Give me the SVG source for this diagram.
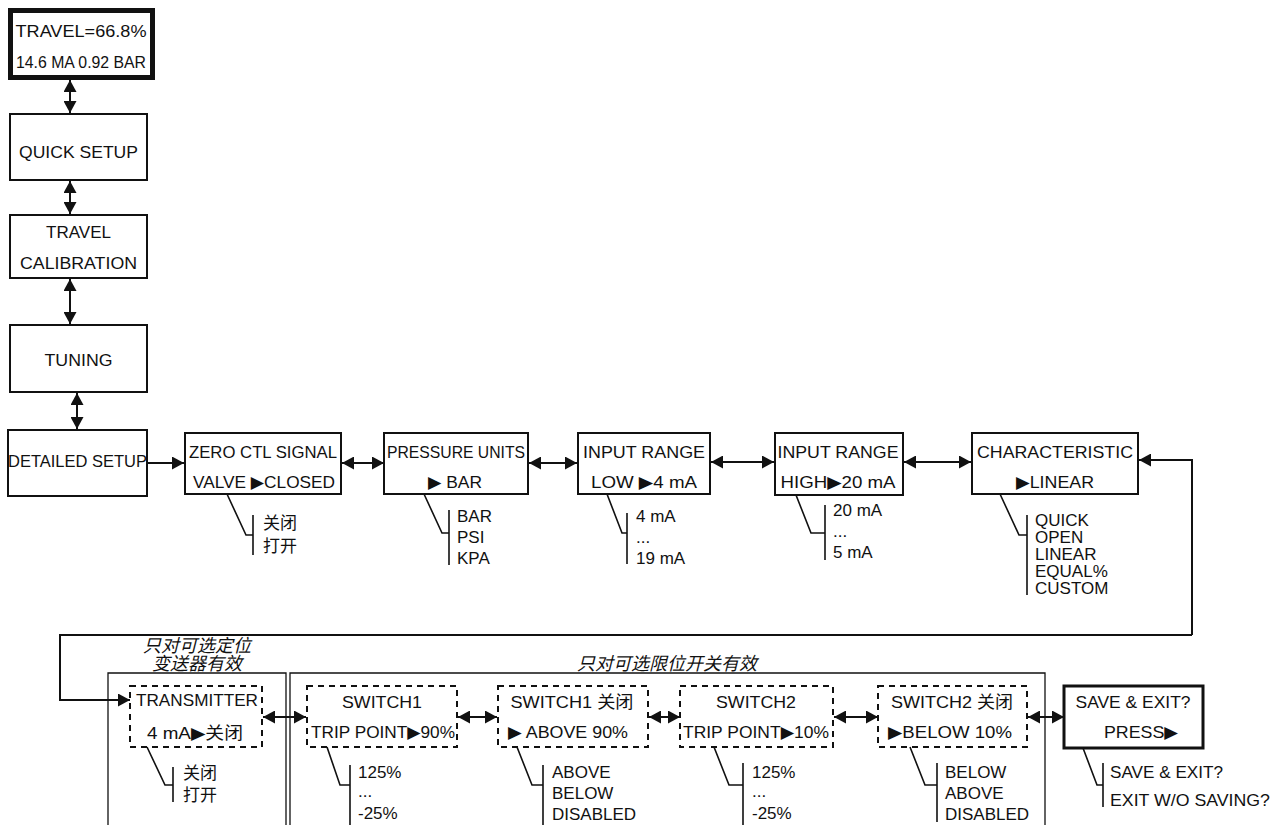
<svg xmlns="http://www.w3.org/2000/svg" width="1273" height="825" viewBox="0 0 1273 825">
<style>
text{font-family:"Liberation Sans","DejaVu Sans","Noto Sans CJK SC",sans-serif;font-size:17px;fill:#111}
.c{text-anchor:middle}
.opt{font-size:17px}
.lab{font-style:italic;font-size:18px;text-anchor:middle}
.box{fill:#fff;stroke:#111;stroke-width:2}
.dbox{fill:none;stroke:#111;stroke-width:2;stroke-dasharray:6 5}
.br{fill:none;stroke:#111;stroke-width:1.6}
.con{fill:none;stroke:#111;stroke-width:2}
.grp{fill:none;stroke:#111;stroke-width:1.3}
</style>
<defs>
<marker id="ah" markerUnits="userSpaceOnUse" markerWidth="12" markerHeight="13" refX="12" refY="6.5" orient="auto-start-reverse" viewBox="0 0 12 13">
<path d="M0,0 L12,6.5 L0,13 z" fill="#111"/>
</marker>
</defs>

<g id="regions">
<path class="grp" d="M108,830 V673 H286 V830"/>
<path class="grp" d="M290,830 V673 H1045 V830"/>
<text class="lab" x="197" y="652">只对可选定位</text>
<text class="lab" x="197" y="670">变送器有效</text>
<text class="lab" x="667" y="670">只对可选限位开关有效</text>
</g>

<g id="connectors">
<line class="con" x1="70" y1="80" x2="70" y2="113" marker-start="url(#ah)" marker-end="url(#ah)"/>
<line class="con" x1="70" y1="181" x2="70" y2="214" marker-start="url(#ah)" marker-end="url(#ah)"/>
<line class="con" x1="70" y1="279" x2="70" y2="324" marker-start="url(#ah)" marker-end="url(#ah)"/>
<line class="con" x1="77" y1="393" x2="77" y2="429" marker-start="url(#ah)" marker-end="url(#ah)"/>
<line class="con" x1="147" y1="463" x2="184" y2="463" marker-end="url(#ah)"/>
<line class="con" x1="342" y1="463" x2="384" y2="463" marker-start="url(#ah)" marker-end="url(#ah)"/>
<line class="con" x1="529" y1="463" x2="577" y2="463" marker-start="url(#ah)" marker-end="url(#ah)"/>
<line class="con" x1="711" y1="462" x2="774" y2="462" marker-start="url(#ah)" marker-end="url(#ah)"/>
<line class="con" x1="904" y1="462" x2="971" y2="462" marker-start="url(#ah)" marker-end="url(#ah)"/>
<path class="con" d="M1192,635 V460 H1139" marker-end="url(#ah)"/>
<path class="con" d="M1192,635 H60 V700 H130" marker-end="url(#ah)"/>
<line class="con" x1="263" y1="717" x2="306" y2="717" marker-start="url(#ah)" marker-end="url(#ah)"/>
<line class="con" x1="458" y1="717" x2="497" y2="717" marker-start="url(#ah)" marker-end="url(#ah)"/>
<line class="con" x1="649" y1="717" x2="680" y2="717" marker-start="url(#ah)" marker-end="url(#ah)"/>
<line class="con" x1="834" y1="717" x2="878" y2="717" marker-start="url(#ah)" marker-end="url(#ah)"/>
<line class="con" x1="1028" y1="717" x2="1064" y2="717" marker-start="url(#ah)" marker-end="url(#ah)"/>
</g>

<g id="n-top">
<rect x="10.5" y="10.5" width="142" height="67" fill="#fff" stroke="#111" stroke-width="5"/>
<text class="c" x="81" y="37" textLength="131" lengthAdjust="spacingAndGlyphs">TRAVEL=66.8%</text>
<text class="c" x="81" y="68" textLength="130" lengthAdjust="spacingAndGlyphs">14.6 MA 0.92 BAR</text>
</g>

<g id="n-quick">
<rect class="box" x="10" y="114" width="137" height="66"/>
<text class="c" x="78.5" y="158" textLength="119" lengthAdjust="spacingAndGlyphs">QUICK SETUP</text>
</g>

<g id="n-travelcal">
<rect class="box" x="10" y="215" width="137" height="63"/>
<text class="c" x="78.5" y="238" textLength="65" lengthAdjust="spacingAndGlyphs">TRAVEL</text>
<text class="c" x="78.5" y="269" textLength="117" lengthAdjust="spacingAndGlyphs">CALIBRATION</text>
</g>

<g id="n-tuning">
<rect class="box" x="10" y="325" width="137" height="67"/>
<text class="c" x="78.5" y="366" textLength="68" lengthAdjust="spacingAndGlyphs">TUNING</text>
</g>

<g id="n-detailed">
<rect class="box" x="8" y="430" width="139" height="66"/>
<text class="c" x="77.5" y="467" textLength="139" lengthAdjust="spacingAndGlyphs">DETAILED SETUP</text>
</g>

<g id="n-zero">
<rect class="box" x="185" y="433" width="156" height="61"/>
<text class="c" x="263" y="458" textLength="148" lengthAdjust="spacingAndGlyphs">ZERO CTL SIGNAL</text>
<text class="c" x="264" y="488" textLength="142" lengthAdjust="spacingAndGlyphs">VALVE ▶CLOSED</text>
<path class="br" d="M227,494 L246,535 H253 M253,515 V555"/>
<text class="opt" x="263" y="529">关闭</text>
<text class="opt" x="263" y="552">打开</text>
</g>

<g id="n-pressure">
<rect class="box" x="384" y="433" width="144" height="61"/>
<text class="c" x="456" y="458" textLength="138" lengthAdjust="spacingAndGlyphs">PRESSURE UNITS</text>
<text class="c" x="455" y="488" textLength="54" lengthAdjust="spacingAndGlyphs">▶ BAR</text>
<path class="br" d="M424,494 L442,533 H449 M449,510 V565"/>
<text class="opt" x="457" y="522">BAR</text>
<text class="opt" x="457" y="543">PSI</text>
<text class="opt" x="457" y="564">KPA</text>
</g>

<g id="n-inlow">
<rect class="box" x="578" y="433" width="132" height="61"/>
<text class="c" x="644" y="458" textLength="122" lengthAdjust="spacingAndGlyphs">INPUT RANGE</text>
<text class="c" x="644" y="488" textLength="106" lengthAdjust="spacingAndGlyphs">LOW ▶4 mA</text>
<path class="br" d="M607,494 L622,533 H627 M627,513 V564"/>
<text class="opt" x="636" y="522">4 mA</text>
<text class="opt" x="636" y="543">...</text>
<text class="opt" x="636" y="564">19 mA</text>
</g>

<g id="n-inhigh">
<rect class="box" x="775" y="433" width="128" height="62"/>
<text class="c" x="838" y="458" textLength="121" lengthAdjust="spacingAndGlyphs">INPUT RANGE</text>
<text class="c" x="838" y="488" textLength="115" lengthAdjust="spacingAndGlyphs">HIGH▶20 mA</text>
<path class="br" d="M796,495 L811,533 H825 M825,505 V560"/>
<text class="opt" x="833" y="516">20 mA</text>
<text class="opt" x="833" y="537">...</text>
<text class="opt" x="833" y="558">5 mA</text>
</g>

<g id="n-char">
<rect class="box" x="972" y="433" width="166" height="61"/>
<text class="c" x="1055" y="458" textLength="156" lengthAdjust="spacingAndGlyphs">CHARACTERISTIC</text>
<text class="c" x="1055" y="488" textLength="78" lengthAdjust="spacingAndGlyphs">▶LINEAR</text>
<path class="br" d="M1000,494 L1019,535 H1027 M1027,515 V595"/>
<text class="opt" x="1035" y="526">QUICK</text>
<text class="opt" x="1035" y="543">OPEN</text>
<text class="opt" x="1035" y="560">LINEAR</text>
<text class="opt" x="1035" y="577">EQUAL%</text>
<text class="opt" x="1035" y="594">CUSTOM</text>
</g>

<g id="n-transmitter">
<rect class="dbox" x="130" y="686" width="132" height="61"/>
<text class="c" x="197" y="706" textLength="122" lengthAdjust="spacingAndGlyphs">TRANSMITTER</text>
<text class="c" x="195" y="739" textLength="96" lengthAdjust="spacingAndGlyphs">4 mA▶关闭</text>
<path class="br" d="M147,747 L165,785 H173 M173,767 V802"/>
<text class="opt" x="183" y="779">关闭</text>
<text class="opt" x="183" y="801">打开</text>
</g>

<g id="n-switch1">
<rect class="dbox" x="307" y="686" width="150" height="61"/>
<text class="c" x="382" y="708" textLength="80" lengthAdjust="spacingAndGlyphs">SWITCH1</text>
<text class="c" x="383" y="738" textLength="144" lengthAdjust="spacingAndGlyphs">TRIP POINT▶90%</text>
<path class="br" d="M327,747 L340,785 H350 M350,765 V825"/>
<text class="opt" x="358" y="778">125%</text>
<text class="opt" x="358" y="797">...</text>
<text class="opt" x="358" y="819">-25%</text>
</g>

<g id="n-switch1off">
<rect class="dbox" x="498" y="686" width="150" height="61"/>
<text class="c" x="572" y="708" textLength="123" lengthAdjust="spacingAndGlyphs">SWITCH1 关闭</text>
<text class="c" x="568" y="738" textLength="120" lengthAdjust="spacingAndGlyphs">▶ ABOVE 90%</text>
<path class="br" d="M517,747 L532,785 H543 M543,765 V825"/>
<text class="opt" x="552" y="778">ABOVE</text>
<text class="opt" x="552" y="799">BELOW</text>
<text class="opt" x="552" y="820">DISABLED</text>
</g>

<g id="n-switch2">
<rect class="dbox" x="680" y="686" width="153" height="61"/>
<text class="c" x="756" y="708" textLength="80" lengthAdjust="spacingAndGlyphs">SWITCH2</text>
<text class="c" x="756" y="738" textLength="146" lengthAdjust="spacingAndGlyphs">TRIP POINT▶10%</text>
<path class="br" d="M714,747 L729,785 H743 M743,763 V825"/>
<text class="opt" x="752" y="778">125%</text>
<text class="opt" x="752" y="797">...</text>
<text class="opt" x="752" y="819">-25%</text>
</g>

<g id="n-switch2off">
<rect class="dbox" x="878" y="686" width="149" height="61"/>
<text class="c" x="952" y="708" textLength="122" lengthAdjust="spacingAndGlyphs">SWITCH2 关闭</text>
<text class="c" x="950" y="738" textLength="124" lengthAdjust="spacingAndGlyphs">▶BELOW 10%</text>
<path class="br" d="M910,747 L925,785 H937 M937,763 V822"/>
<text class="opt" x="945" y="778">BELOW</text>
<text class="opt" x="945" y="799">ABOVE</text>
<text class="opt" x="945" y="820">DISABLED</text>
</g>

<g id="n-save">
<rect x="1064" y="686" width="139" height="62" fill="#fff" stroke="#111" stroke-width="3"/>
<text class="c" x="1133" y="708" textLength="115" lengthAdjust="spacingAndGlyphs">SAVE &amp; EXIT?</text>
<text class="c" x="1141" y="738" textLength="74" lengthAdjust="spacingAndGlyphs">PRESS▶</text>
<path class="br" d="M1083,748 L1097,785 H1103 M1103,763 V807"/>
<text class="opt" x="1110" y="778" textLength="113" lengthAdjust="spacingAndGlyphs">SAVE &amp; EXIT?</text>
<text class="opt" x="1110" y="806" textLength="160" lengthAdjust="spacingAndGlyphs">EXIT W/O SAVING?</text>
</g>
</svg>
